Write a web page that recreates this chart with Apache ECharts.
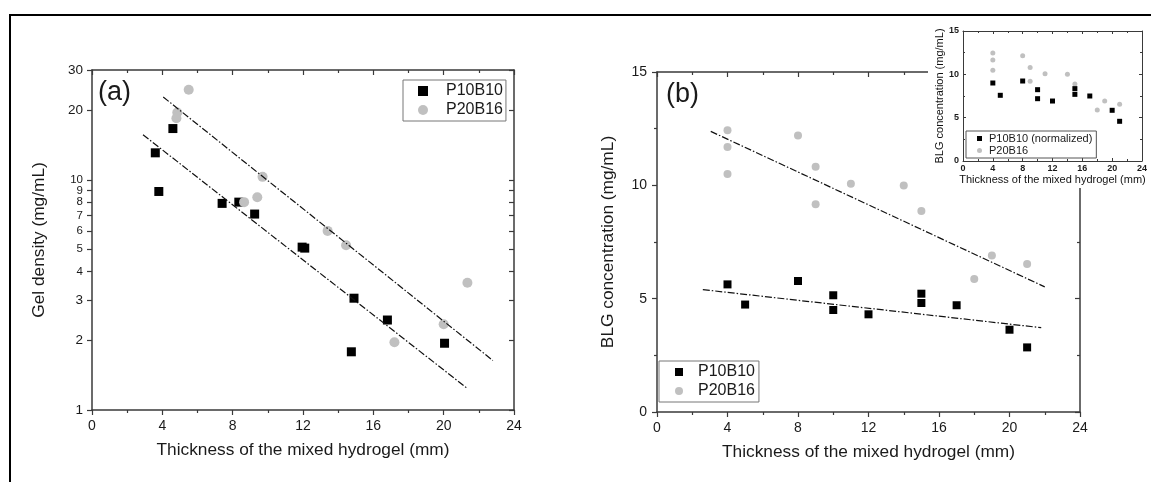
<!DOCTYPE html>
<html><head><meta charset="utf-8">
<script src="https://cdn.jsdelivr.net/npm/echarts@6/dist/echarts.min.js"></script>
<style>html,body{margin:0;padding:0;background:#fff}#c{width:1151px;height:482px}</style>
</head><body><div id="c"></div>
<script>
// ---- data ----
const xTicks = [0, 4, 8, 12, 16, 20, 24];
const gelTicks = [1, 2, 3, 4, 5, 6, 7, 8, 9, 10, 20, 30];
const blgTicks = [0, 5, 10, 15];
const seriesNames = ['P10B10', 'P20B16'];
const insetNames = ['P10B10 (normalized)', 'P20B16'];

// panel (a): gel density (log scale)
const gelP10 = [[3.6,13.1],[3.8,8.9],[4.6,16.7],[7.4,7.9],[8.35,8.0],[9.25,7.1],[11.95,5.1],[12.1,5.05],[14.9,3.06],[14.75,1.79],[16.8,2.46],[20.05,1.95]];
const gelP20 = [[5.5,24.6],[4.85,19.6],[4.8,18.5],[9.7,10.3],[9.4,8.4],[8.65,8.0],[13.4,6.0],[14.45,5.2],[21.35,3.57],[20.0,2.36],[17.2,1.97]];
const gelFitP10 = [[2.9,15.7],[21.35,1.24]];
const gelFitP20 = [[4.05,22.9],[22.8,1.64]];

// panel (b): BLG concentration
const blgP10 = [[4,5.63],[5,4.74],[8,5.78],[10,5.15],[10,4.5],[12,4.31],[15,5.22],[15,4.81],[17,4.71],[20,3.63],[21,2.85]];
const blgP20 = [[4,12.43],[4,11.69],[4,10.5],[8,12.2],[9,10.82],[9,9.16],[11,10.07],[14,9.99],[15,8.87],[18,5.87],[19,6.9],[21,6.53]];
const blgFitP10 = [[2.6,5.4],[21.8,3.72]];
const blgFitP20 = [[3.05,12.38],[22.0,5.52]];

// inset
const insetP10 = [[4,9.0],[5,7.58],[8,9.23],[10,8.23],[10,7.19],[12,6.92],[15,8.35],[15,7.69],[17,7.5],[20,5.85],[21,4.58]];
const insetP20 = [[4,12.46],[4,11.65],[4,10.46],[8,12.15],[9,10.8],[9,9.19],[11,10.08],[14,10.0],[15,8.88],[18,5.88],[19,6.92],[21,6.54]];

// ---- styling ----
const FONT = 'Liberation Sans, Arial, sans-serif';
const AX = '#3a3a3a';
const TXT = '#1a1a1a';
const GRAY = '#c0c0c0';
const DASHDOT = [7, 2, 1.5, 2];

function mainX(grid, top) {
  const a = {
    type: 'value', gridIndex: grid, min: 0, max: 24, interval: 4,
    position: top ? 'top' : 'bottom',
    axisLine: { show: true, onZero: false, lineStyle: { color: AX, width: 1.5 } },
    axisTick: { show: true, inside: !!top, length: 5, lineStyle: { color: AX, width: 1.2 } },
    minorTick: { show: true, splitNumber: 2, length: 3, lineStyle: { color: AX, width: 1.2 } },
    splitLine: { show: false },
    axisLabel: { show: !top, color: TXT, fontSize: 14, fontFamily: FONT, margin: 9 }
  };
  if (!top) {
    a.name = 'Thickness of the mixed hydrogel (mm)';
    a.nameLocation = 'middle';
    a.nameGap = 32;
    a.nameTextStyle = { color: TXT, fontSize: 17.3, fontFamily: FONT };
  }
  return a;
}

function legendCfg(names, left, top, opts) {
  return Object.assign({
    data: [{ name: names[0], icon: 'rect' }, { name: names[1], icon: 'circle' }],
    orient: 'vertical', left: left, top: top,
    borderColor: '#777', borderWidth: 1, selectedMode: false
  }, opts);
}

const option = {
  backgroundColor: '#fff',
  animation: false,
  grid: [
    { left: 92, top: 70, width: 422, height: 340, outerBoundsMode: 'none' },
    { left: 657, top: 72, width: 423, height: 340, outerBoundsMode: 'none' },
    { left: 963, top: 31, width: 179, height: 130, outerBoundsMode: 'none' }
  ],
  legend: [
    legendCfg(seriesNames, 403, 80, {
      padding: [3, 3, 3, 15], itemGap: 3, itemWidth: 10, itemHeight: 10,
      textStyle: { color: TXT, fontSize: 16, fontFamily: FONT, padding: [0, 0, 0, 13] }
    }),
    legendCfg(seriesNames, 659, 361, {
      padding: [3, 4, 3, 16], itemGap: 3, itemWidth: 8, itemHeight: 8,
      textStyle: { color: TXT, fontSize: 16, fontFamily: FONT, padding: [0, 0, 0, 10] }
    }),
    legendCfg(insetNames, 966, 131, {
      z: 80, padding: [2, 4, 2, 11], itemGap: 1, itemWidth: 5, itemHeight: 5,
      borderColor: '#555', backgroundColor: '#fff',
      textStyle: { color: TXT, fontSize: 11, fontFamily: FONT, padding: [0, 0, 0, 2] }
    })
  ],
  xAxis: [
    mainX(0, false), mainX(0, true),
    mainX(1, false), mainX(1, true),
    {
      type: 'value', gridIndex: 2, min: 0, max: 24, interval: 4, position: 'bottom', z: 70,
      axisLine: { show: true, onZero: false, lineStyle: { color: AX, width: 1 } },
      axisTick: { show: true, inside: true, length: 3, lineStyle: { color: AX } },
      minorTick: { show: true, splitNumber: 2, length: 2, lineStyle: { color: AX } },
      splitLine: { show: false },
      axisLabel: { color: TXT, fontSize: 9, fontWeight: 'bold', fontFamily: FONT, margin: 3 },
      name: 'Thickness of the mixed hydrogel (mm)', nameLocation: 'middle', nameGap: 13,
      nameTextStyle: { color: '#111', fontSize: 11, fontFamily: FONT }
    },
    {
      type: 'value', gridIndex: 2, min: 0, max: 24, interval: 4, position: 'top', z: 70,
      axisLine: { show: true, onZero: false, lineStyle: { color: AX, width: 1 } },
      axisTick: { show: true, inside: true, length: 3, lineStyle: { color: AX } },
      minorTick: { show: true, splitNumber: 2, length: 2, lineStyle: { color: AX } },
      splitLine: { show: false }, axisLabel: { show: false }
    }
  ],
  yAxis: [
    {
      type: 'log', logBase: 10, gridIndex: 0, min: 1, max: 30, position: 'left',
      axisLine: { show: true, onZero: false, lineStyle: { color: AX, width: 1.5 } },
      axisTick: { show: true, inside: false, length: 5, customValues: gelTicks, lineStyle: { color: AX, width: 1.2 } },
      minorTick: { show: false },
      splitLine: { show: false },
      axisLabel: {
        color: TXT, fontFamily: FONT, margin: 9, customValues: gelTicks,
        formatter: function (v) { v = Math.round(v); return (v >= 4 && v <= 10) ? '{s|' + v + '}' : '{b|' + v + '}'; },
        rich: { s: { fontSize: 11.5, fontFamily: FONT, color: TXT }, b: { fontSize: 13.5, fontFamily: FONT, color: TXT } }
      },
      name: 'Gel density (mg/mL)', nameLocation: 'middle', nameGap: 44,
      nameTextStyle: { color: TXT, fontSize: 17.3, fontFamily: FONT }
    },
    {
      type: 'log', logBase: 10, gridIndex: 0, min: 1, max: 30, position: 'right',
      axisLine: { show: true, onZero: false, lineStyle: { color: AX, width: 1.5 } },
      axisTick: { show: true, inside: true, length: 5, customValues: gelTicks, lineStyle: { color: AX, width: 1.2 } },
      splitLine: { show: false }, axisLabel: { show: false }
    },
    {
      type: 'value', gridIndex: 1, min: 0, max: 15, interval: 5, position: 'left',
      axisLine: { show: true, onZero: false, lineStyle: { color: AX, width: 1.5 } },
      axisTick: { show: true, inside: false, length: 5, lineStyle: { color: AX, width: 1.2 } },
      minorTick: { show: true, splitNumber: 2, length: 3, lineStyle: { color: AX, width: 1.2 } },
      splitLine: { show: false },
      axisLabel: { color: TXT, fontSize: 14, fontFamily: FONT, margin: 10 },
      name: 'BLG concentration (mg/mL)', nameLocation: 'middle', nameGap: 40,
      nameTextStyle: { color: TXT, fontSize: 17.3, fontFamily: FONT }
    },
    {
      type: 'value', gridIndex: 1, min: 0, max: 15, interval: 5, position: 'right',
      axisLine: { show: true, onZero: false, lineStyle: { color: AX, width: 1.5 } },
      axisTick: { show: true, inside: true, length: 5, lineStyle: { color: AX, width: 1.2 } },
      minorTick: { show: true, splitNumber: 2, length: 3, lineStyle: { color: AX, width: 1.2 } },
      splitLine: { show: false }, axisLabel: { show: false }
    },
    {
      type: 'value', gridIndex: 2, min: 0, max: 15, interval: 5, position: 'left', z: 70,
      axisLine: { show: true, onZero: false, lineStyle: { color: AX, width: 1 } },
      axisTick: { show: true, inside: true, length: 3, lineStyle: { color: AX } },
      minorTick: { show: true, splitNumber: 2, length: 2, lineStyle: { color: AX } },
      splitLine: { show: false },
      axisLabel: { color: TXT, fontSize: 9, fontWeight: 'bold', fontFamily: FONT, margin: 4 },
      name: 'BLG concentration (mg/mL)', nameLocation: 'middle', nameGap: 18,
      nameTextStyle: { color: '#111', fontSize: 11, fontFamily: FONT }
    },
    {
      type: 'value', gridIndex: 2, min: 0, max: 15, interval: 5, position: 'right', z: 70,
      axisLine: { show: true, onZero: false, lineStyle: { color: AX, width: 1 } },
      axisTick: { show: true, inside: true, length: 3, lineStyle: { color: AX } },
      minorTick: { show: true, splitNumber: 2, length: 2, lineStyle: { color: AX } },
      splitLine: { show: false }, axisLabel: { show: false }
    }
  ],
  graphic: [
    { type: 'polyline', z: 100, shape: { points: [[10, 482], [10, 15], [1151, 15]] }, style: { stroke: '#000', lineWidth: 2, fill: null } },
    { type: 'rect', z: 50, shape: { x: 928, y: 17, width: 223, height: 171 }, style: { fill: '#fff' } },
    { type: 'text', left: 98, top: 79, z: 20, style: { text: '(a)', fontSize: 27, fontFamily: FONT, fill: TXT } },
    { type: 'text', left: 666, top: 81, z: 20, style: { text: '(b)', fontSize: 27, fontFamily: FONT, fill: TXT } }
  ],
  series: [
    { name: 'fitA10', type: 'line', xAxisIndex: 0, yAxisIndex: 0, data: gelFitP10, symbol: 'none', lineStyle: { color: '#111', width: 1.2, type: DASHDOT }, z: 4 },
    { name: 'fitA20', type: 'line', xAxisIndex: 0, yAxisIndex: 0, data: gelFitP20, symbol: 'none', lineStyle: { color: '#111', width: 1.2, type: DASHDOT }, z: 4 },
    { name: seriesNames[0], type: 'scatter', xAxisIndex: 0, yAxisIndex: 0, data: gelP10, symbol: 'rect', symbolSize: 9, itemStyle: { color: '#000', opacity: 1 }, z: 2 },
    { name: seriesNames[1], type: 'scatter', xAxisIndex: 0, yAxisIndex: 0, data: gelP20, symbol: 'circle', symbolSize: 10, itemStyle: { color: GRAY, opacity: 1 }, z: 3 },

    { name: 'fitB10', type: 'line', xAxisIndex: 2, yAxisIndex: 2, data: blgFitP10, symbol: 'none', lineStyle: { color: '#111', width: 1.2, type: DASHDOT }, z: 4 },
    { name: 'fitB20', type: 'line', xAxisIndex: 2, yAxisIndex: 2, data: blgFitP20, symbol: 'none', lineStyle: { color: '#111', width: 1.2, type: DASHDOT }, z: 4 },
    { name: seriesNames[0], type: 'scatter', xAxisIndex: 2, yAxisIndex: 2, data: blgP10, symbol: 'rect', symbolSize: 8, itemStyle: { color: '#000', opacity: 1 }, z: 2 },
    { name: seriesNames[1], type: 'scatter', xAxisIndex: 2, yAxisIndex: 2, data: blgP20, symbol: 'circle', symbolSize: 8, itemStyle: { color: GRAY, opacity: 1 }, z: 3 },

    { name: insetNames[0], type: 'scatter', xAxisIndex: 4, yAxisIndex: 4, data: insetP10, symbol: 'rect', symbolSize: 5, itemStyle: { color: '#000', opacity: 1 }, z: 72 },
    { name: insetNames[1], type: 'scatter', xAxisIndex: 4, yAxisIndex: 4, data: insetP20, symbol: 'circle', symbolSize: 5, itemStyle: { color: GRAY, opacity: 1 }, z: 71 }
  ]
};

const chart = echarts.init(document.getElementById('c'), null, { renderer: 'canvas' });
chart.setOption(option);
</script>
</body></html>
